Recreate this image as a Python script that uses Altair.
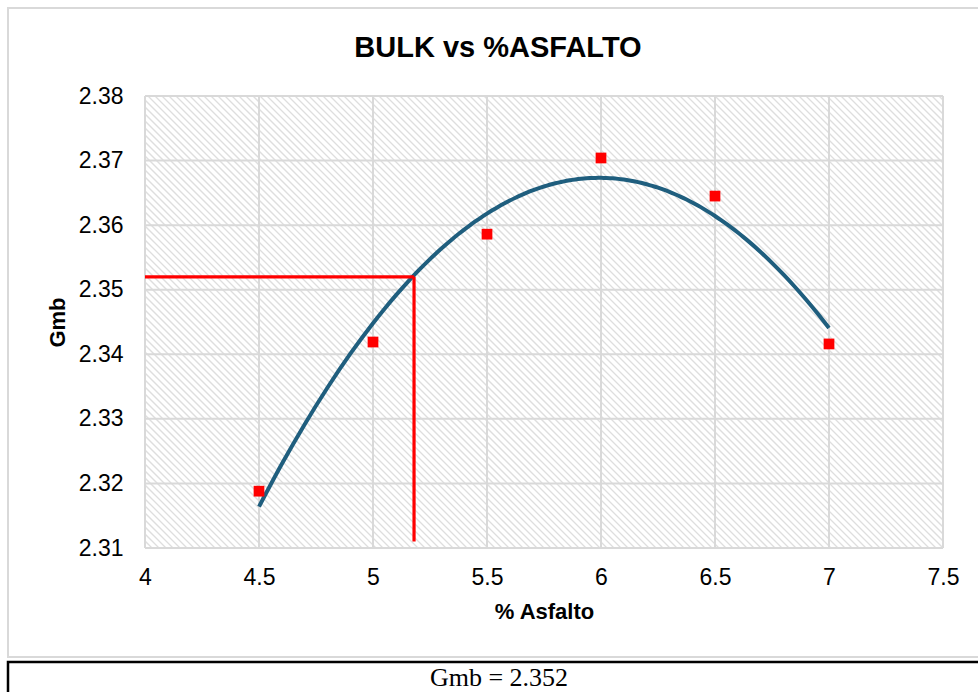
import altair as alt
import numpy as np
import pandas as pd

# Bulk specific gravity (Gmb) measured at each asphalt content
asfalto = [4.5, 5.0, 5.5, 6.0, 6.5, 7.0]
gmb = [2.3188, 2.3419, 2.3586, 2.3704, 2.3645, 2.3416]

# Axis ticks
x_ticks = [4, 4.5, 5, 5.5, 6, 6.5, 7, 7.5]
y_ticks = [2.31, 2.32, 2.33, 2.34, 2.35, 2.36, 2.37, 2.38]

# Design asphalt content and the Gmb
opt_asfalto = 5.18
opt_gmb = 2.352
guide_floor = 2.311

chart_title = "BULK vs %ASFALTO"

W, H = 798, 452
X_DOM = [4.0, 7.5]
Y_DOM = [2.31, 2.38]

FONT = "Liberation Sans"
GRID = "#d9d9d9"

points = pd.DataFrame({"asfalto": asfalto, "gmb": gmb})

x_scale = alt.Scale(domain=X_DOM, nice=False, zero=False)
y_scale = alt.Scale(domain=Y_DOM, nice=False, zero=False)

x_axis = alt.Axis(
    values=x_ticks, format="~g", title="% Asfalto", grid=False, domain=False,
    ticks=False, labelFont=FONT, labelFontSize=23, labelColor="black",
    labelPadding=18, labelFlush=False, titleFont=FONT, titleFontSize=22,
    titleFontWeight="bold", titleColor="black", titleY=63, titleBaseline="middle",
)
y_axis = alt.Axis(
    values=y_ticks, format=".2f", title="Gmb", grid=False, domain=False,
    ticks=False, labelFont=FONT, labelFontSize=23, labelColor="black",
    labelPadding=22, labelFlush=False, titleFont=FONT, titleFontSize=22,
    titleFontWeight="bold", titleColor="black", titleX=-88, titleY=H / 2,
    titleBaseline="middle", titleAlign="center", titleAngle=-90,
)

# Diagonal hatch fill of the plot area (lines at 45 degrees on screen)
step = 7
ks = np.arange(-H, W + step, step)
xr = X_DOM[1] - X_DOM[0]
hatch = pd.DataFrame({
    "hx": X_DOM[0] + ks / W * xr,
    "hx2": X_DOM[0] + (ks + H) / W * xr,
    "hy": [Y_DOM[1]] * len(ks),
    "hy2": [Y_DOM[0]] * len(ks),
})
hatch_layer = alt.Chart(hatch).mark_rule(
    clip=True, stroke="#dedede", strokeWidth=1.3
).encode(
    x=alt.X("hx:Q", scale=x_scale, axis=x_axis),
    x2="hx2:Q",
    y=alt.Y("hy:Q", scale=y_scale, axis=y_axis),
    y2="hy2:Q",
)

# Gridlines
vgrid = alt.Chart(pd.DataFrame({"t": x_ticks})).mark_rule(
    stroke=GRID, strokeWidth=2
).encode(x=alt.X("t:Q", scale=x_scale), y=alt.value(0), y2=alt.value(H))
hgrid = alt.Chart(pd.DataFrame({"t": y_ticks})).mark_rule(
    stroke=GRID, strokeWidth=2
).encode(y=alt.Y("t:Q", scale=y_scale), x=alt.value(0), x2=alt.value(W))

# Second-order polynomial trendline
trend = alt.Chart(points).transform_regression(
    "asfalto", "gmb", method="poly", order=2, extent=[4.5, 7.0]
).mark_line(color="#1f5e7e", strokeWidth=4, interpolate="monotone").encode(
    x=alt.X("asfalto:Q", scale=x_scale),
    y=alt.Y("gmb:Q", scale=y_scale),
)

dots = alt.Chart(points).mark_square(
    size=115, color="#ff0000", opacity=1
).encode(
    x=alt.X("asfalto:Q", scale=x_scale),
    y=alt.Y("gmb:Q", scale=y_scale),
)

# Red guide lines to the design point
guide_h = alt.Chart(pd.DataFrame({"x0": [X_DOM[0]], "x1": [opt_asfalto], "y": [opt_gmb]})).mark_rule(
    color="#ff0000", strokeWidth=3.2
).encode(x=alt.X("x0:Q", scale=x_scale), x2="x1:Q", y=alt.Y("y:Q", scale=y_scale))
guide_v = alt.Chart(pd.DataFrame({"x": [opt_asfalto], "y0": [opt_gmb], "y1": [guide_floor]})).mark_rule(
    color="#ff0000", strokeWidth=3.2
).encode(x=alt.X("x:Q", scale=x_scale), y=alt.Y("y0:Q", scale=y_scale), y2="y1:Q")

one = pd.DataFrame({"label": [f"Gmb = {opt_gmb:.3f}"], "title": [chart_title]})

# Chart frame and result box beneath it
frame = alt.Chart(one).mark_rect(
    fill="transparent", stroke="#d9d9d9", strokeWidth=2
).encode(x=alt.value(-137), x2=alt.value(850), y=alt.value(-88), y2=alt.value(561))
box = alt.Chart(one).mark_rect(
    fill="transparent", stroke="black", strokeWidth=2.5
).encode(x=alt.value(-137), x2=alt.value(850), y=alt.value(566), y2=alt.value(620))
result = alt.Chart(one).mark_text(
    font="Liberation Serif", fontSize=26, color="black", align="center", baseline="middle"
).encode(x=alt.value(354), y=alt.value(582), text="label:N")

# Chart heading, centred over the whole frame
heading = alt.Chart(one).mark_text(
    font=FONT, fontSize=29, fontWeight="bold", color="black",
    align="center", baseline="alphabetic"
).encode(x=alt.value(353), y=alt.value(-39), text="title:N")

chart = alt.layer(
    frame, hatch_layer, vgrid, hgrid, trend, dots, guide_h, guide_v, box, result, heading
).properties(
    width=W,
    height=H,
    autosize=alt.AutoSizeParams(type="none"),
    padding={"left": 145, "top": 96, "right": 35, "bottom": 144},
    background="white",
).configure_view(strokeWidth=0)

chart.save("out.html", embed_options={"renderer": "svg", "actions": False})
